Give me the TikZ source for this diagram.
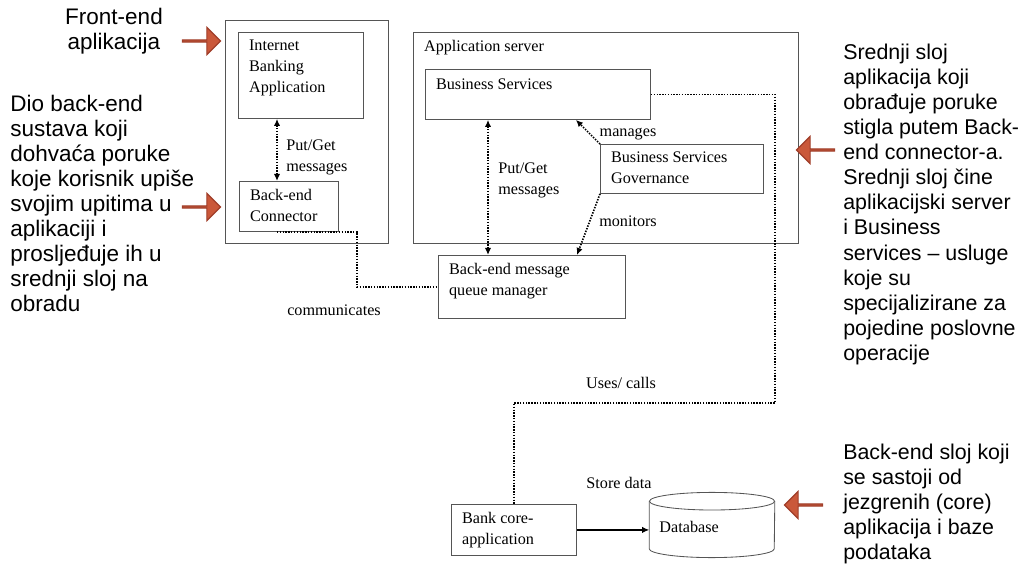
\documentclass[tikz,border=0pt]{standalone}
\usepackage{fontspec}
\setmainfont{Liberation Serif}
\newfontfamily\notefont{Liberation Sans}
\usetikzlibrary{
  calc,positioning,shapes.geometric,shapes.arrows,
  arrows,arrows.meta
}

\definecolor{notered}{RGB}{202,88,58}
\definecolor{noteline}{RGB}{160,62,42}
\definecolor{boxline}{RGB}{85,85,85}

\tikzset{
  box/.style={draw=boxline,line width=0.6pt,rectangle,anchor=north west,inner sep=0pt},
  boxtext/.style={anchor=north west,align=left,inner xsep=0.27cm,inner ysep=0.19cm,
    font=\fontsize{11.5}{15}\selectfont},
  link/.style={line width=1.2pt,dash pattern=on 1pt off 1pt},
  tag/.style={inner sep=0pt,align=left,font=\fontsize{11.5}{15}\selectfont},
  note/.style={inner sep=0pt,align=left,font=\notefont\fontsize{16}{17.8}\selectfont},
  sidenote/.style={note,font=\notefont\fontsize{15.2}{17.8}\selectfont},
  pointer/.style={single arrow,draw=noteline,fill=notered,line width=0.8pt,inner sep=0pt,
    minimum height=0.95cm,minimum width=0.68cm,single arrow head extend=0.17cm}
}

\begin{document}
\begin{tikzpicture}[x=0.025cm,y=-0.025cm,>={Latex[length=5pt,width=4.5pt]}]
\useasboundingbox (0,0) rectangle (1018,569);

\node[box,minimum width=4.075cm,minimum height=5.575cm] (front) at (225,20) {};
\node[box,minimum width=3.125cm,minimum height=2.15cm,
  label={[boxtext]north west:{Internet\\Banking\\Application}}] (iba) at (238,32) {};
\node[box,minimum width=2.475cm,minimum height=1.25cm,
  label={[boxtext]north west:{Back-end\\Connector}}] (conn) at (239,181) {};

\node[box,minimum width=9.625cm,minimum height=5.275cm,
  label={[boxtext]north west:{Application server}}] (appsrv) at (413,32) {};
\node[box,minimum width=5.625cm,minimum height=1.25cm,
  label={[boxtext,yshift=-0.06cm]north west:{Business Services}}] (bs) at (425,69) {};
\node[box,minimum width=4.075cm,minimum height=1.225cm,
  label={[boxtext]north west:{Business Services\\Governance}}] (bsg) at (600,144) {};
\node[box,minimum width=4.675cm,minimum height=1.575cm,
  label={[boxtext]north west:{Back-end message\\queue manager}}] (qm) at (438,255) {};

\node[box,minimum width=3.125cm,minimum height=1.275cm,
  label={[boxtext]north west:{Bank core-\\application}}] (bank) at (451,504) {};
\node[rectangle,inner sep=0pt,minimum width=3.125cm,minimum height=1.625cm,
  label={[tag,anchor=west,xshift=0.25cm,yshift=-0.05cm]west:Database}] (db) at (712,525) {};
\draw[boxline,line width=0.6pt] ($(db.north)+(0,9)$) ellipse [x radius=1.5625cm,y radius=0.22cm];
\draw[boxline,line width=0.6pt] ($(db.north west)+(0,9)$) -- ($(db.south west)+(0,-9)$)
  arc[start angle=180,end angle=360,x radius=1.5625cm,y radius=0.22cm]
  -- ($(db.north east)+(0,9)$);

\coordinate (pg1) at ($(iba.south west)+(39,0)$);
\draw[link,<->] (pg1) -- (pg1 |- conn.north);
\coordinate (pg2) at ($(bs.south west)+(63,0)$);
\draw[link,<->] (pg2) -- (pg2 |- qm.north);
\coordinate (mgend) at ($(bs.south east)+(-75,0)$);
\draw[link,->] (bsg.north west) -- (mgend);
\coordinate (monend) at ($(qm.north west)+(139,0)$);
\draw[link,->] (bsg.south west) -- (monend);
\coordinate (cstart) at ($(conn.south west)+(38,0)$);
\coordinate (cbend) at ($(qm.west)+(-81,0)$);
\draw[link] (cstart) -| (cbend) -- (qm.west);
\coordinate (ucorner) at (775,403);
\draw[link] (bs.east) -| (ucorner) -| (bank.north);
\draw[->,line width=0.9pt] (bank.east) -- (bank.east -| db.west);

\node[tag,anchor=west] (pg1text) at (286,157) {Put/Get\\messages};
\node[tag,anchor=west] (pg2text) at (498,180) {Put/Get\\messages};
\node[tag] (mgtext) at (628,134) {manages};
\node[tag] (montext) at (628,221) {monitors};
\node[tag] (comtext) at (334,310) {communicates};
\node[tag] (usetext) at (621,383) {Uses/ calls};
\node[tag] (storetext) at (619,483) {Store data};

\node[pointer] (arrfront) at (201,41) {};
\node[pointer] (arrconn) at (201,207) {};
\node[pointer,shape border rotate=180] (arrmid) at (816,150) {};
\node[pointer,shape border rotate=180] (arrdb) at (804,505) {};

\node[note,align=center] (fetext) at (114,31) {Front-end\\aplikacija};
\node[note,anchor=north west] (conntext) at (10,95) {Dio back-end\\sustava koji\\dohvaća poruke\\koje korisnik upiše\\svojim upitima u\\aplikaciji i\\prosljeđuje ih u\\srednji sloj na\\obradu};
\node[sidenote,anchor=north west] (midtext) at (843,44) {Srednji sloj\\aplikacija koji\\obrađuje poruke\\stigla putem Back-\\end connector-a.\\Srednji sloj čine\\aplikacijski server\\i Business\\services – usluge\\koje su\\specijalizirane za\\pojedine poslovne\\operacije};
\node[sidenote,anchor=north west] (dbtext) at (843,444) {Back-end sloj koji\\se sastoji od\\jezgrenih (core)\\aplikacija i baze\\podataka};
\end{tikzpicture}
\end{document}
